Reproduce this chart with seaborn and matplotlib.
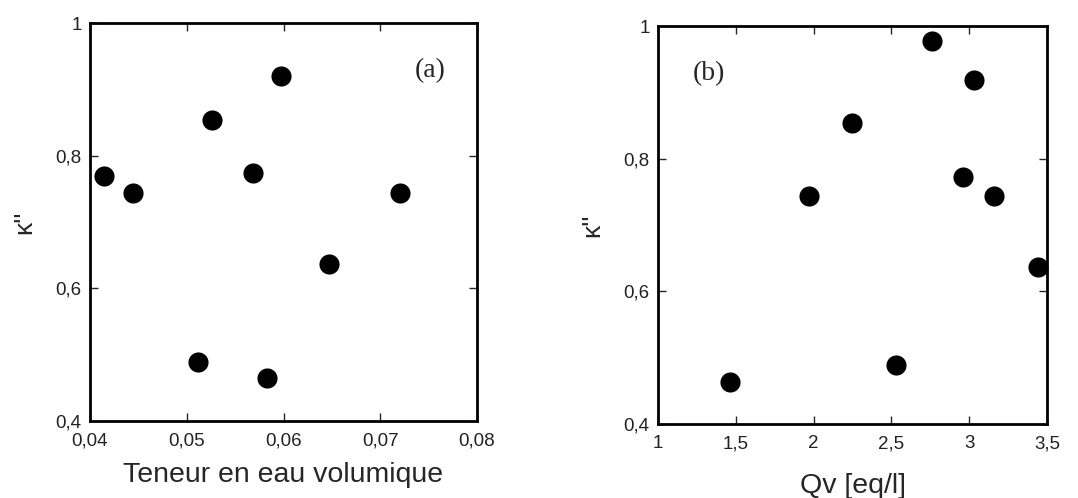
import matplotlib
matplotlib.use("Agg")
import matplotlib.pyplot as plt
from matplotlib.ticker import FuncFormatter, MultipleLocator
import seaborn as sns
import pandas as pd

# (a) kappa'' vs teneur en eau volumique
teneur = [0.0414, 0.0444, 0.0526, 0.0597, 0.0568, 0.0720, 0.0647, 0.0512, 0.0583]
kappa_a = [0.770, 0.744, 0.854, 0.920, 0.774, 0.744, 0.637, 0.489, 0.465]

# (b) kappa'' vs Qv
qv = [1.46, 1.968, 2.249, 2.532, 2.764, 3.031, 2.96, 3.157, 3.442]
kappa_b = [0.464, 0.744, 0.854, 0.489, 0.978, 0.919, 0.773, 0.744, 0.637]

df_a = pd.DataFrame({"x": teneur, "y": kappa_a})
df_b = pd.DataFrame({"x": qv, "y": kappa_b})

sns.set_style("ticks")
plt.rcParams["font.family"] = ["Liberation Sans", "DejaVu Sans"]


def virgule(v, pos):
    s = f"{v:g}"
    return s.replace(".", ",")


fig = plt.figure(figsize=(10.78, 4.98), dpi=100)
ax1 = fig.add_axes([90 / 1078, 1 - 421 / 498, 387 / 1078, 398 / 498])
ax2 = fig.add_axes([658 / 1078, 1 - 424 / 498, 389 / 1078, 398 / 498])

sns.scatterplot(data=df_a, x="x", y="y", ax=ax1, color="black", s=210,
                edgecolor="black", linewidth=0, clip_on=False, zorder=3)
sns.scatterplot(data=df_b, x="x", y="y", ax=ax2, color="black", s=210,
                edgecolor="black", linewidth=0, clip_on=False, zorder=3)

ax1.set_xlim(0.04, 0.08)
ax1.xaxis.set_major_locator(MultipleLocator(0.01))
ax2.set_xlim(1, 3.5)
ax2.xaxis.set_major_locator(MultipleLocator(0.5))

for ax, lab, lpad in [(ax1, "Teneur en eau volumique", 9), (ax2, "Qv [eq/l]", 15)]:
    ax.set_ylim(0.4, 1.0)
    ax.yaxis.set_major_locator(MultipleLocator(0.2))
    ax.xaxis.set_major_formatter(FuncFormatter(virgule))
    ax.yaxis.set_major_formatter(FuncFormatter(virgule))
    ax.tick_params(direction="in", top=True, right=True, length=6, width=1,
                   labelsize=13.5, labelcolor="#222222")
    ax.tick_params(axis="x", pad=8)
    ax.tick_params(axis="y", pad=6)
    for sp in ax.spines.values():
        sp.set_linewidth(2)
        sp.set_color("black")
    ax.set_xlabel(lab, fontsize=20.5, labelpad=lpad)
    ax.set_ylabel("κ''", fontsize=19, labelpad=14)

ax1.text(0.88, 0.88, "(a)", transform=ax1.transAxes, fontsize=20,
         family="Liberation Serif", ha="center", va="center")
ax2.text(0.13, 0.88, "(b)", transform=ax2.transAxes, fontsize=20,
         family="Liberation Serif", ha="center", va="center")

fig.savefig("out.png", dpi=100)
